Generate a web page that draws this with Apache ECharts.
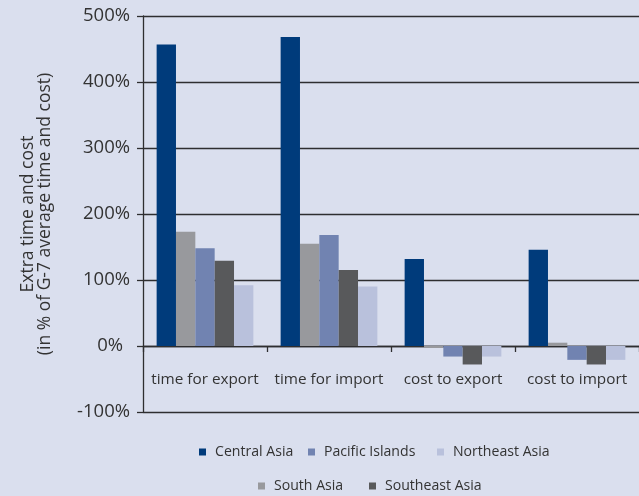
<!DOCTYPE html>
<html>
<head>
<meta charset="utf-8">
<title>Extra time and cost of trade</title>
<script src="https://cdn.jsdelivr.net/npm/echarts@6/dist/echarts.min.js"></script>
<style>
  html, body { margin: 0; padding: 0; background: #dadfee; }
  #chart { width: 639px; height: 496px; }
</style>
</head>
<body>
<div id="chart"></div>
<script>
// Categories along the x axis
const categories = ['time for export', 'time for import', 'cost to export', 'cost to import'];

// Extra time and cost, % of G-7 average
const centralAsia    = [457, 468, 132, 146];
const southAsia      = [173, 155, -3, 5];
const pacificIslands = [148, 168, -16, -21];
const southeastAsia  = [129, 115, -28, -28];
const northeastAsia  = [92, 90, -16, -21];

const yTicks = [-100, 0, 100, 200, 300, 400, 500];

const FONT = '"Open Sans", "Noto Sans", sans-serif';
const TEXT = '#333333';
const LINE = '#2e2e30';

const seriesDefs = [
  { name: 'Central Asia',    data: centralAsia,    color: '#003b7b' },
  { name: 'South Asia',      data: southAsia,      color: '#98999d' },
  { name: 'Pacific Islands', data: pacificIslands, color: '#7183b1' },
  { name: 'Southeast Asia',  data: southeastAsia,  color: '#58595b' },
  { name: 'Northeast Asia',  data: northeastAsia,  color: '#b9c1dc' }
];

// One legend entry per block so the two rows sit where they should
const legendSpots = [
  { name: 'Central Asia',    left: 199, top: 445 },
  { name: 'Pacific Islands', left: 308, top: 445 },
  { name: 'Northeast Asia',  left: 437, top: 445 },
  { name: 'South Asia',      left: 258, top: 479 },
  { name: 'Southeast Asia',  left: 369, top: 479 }
];

const chart = echarts.init(document.getElementById('chart'), null, { renderer: 'canvas' });

chart.setOption({
  backgroundColor: '#dadfee',
  animation: false,
  textStyle: { fontFamily: FONT },
  grid: { left: 143, right: 0, top: 16, bottom: 84, containLabel: false },
  legend: legendSpots.map(l => ({
    data: [l.name],
    left: l.left,
    top: l.top,
    padding: 0,
    icon: 'rect',
    itemWidth: 7,
    itemHeight: 7,
    selectedMode: false,
    textStyle: { fontFamily: FONT, fontSize: 14.1, color: TEXT, padding: [0, 0, 0, 4] }
  })),
  xAxis: [
    {
      // zero line with the category ticks
      type: 'category',
      data: categories,
      axisLine: { onZero: true, lineStyle: { color: LINE, width: 1.3 } },
      axisTick: { show: true, length: 6, lineStyle: { color: LINE, width: 1.3 } },
      axisLabel: { show: false },
      splitLine: { show: false }
    },
    {
      // category names, sitting between the zero line and the bottom line
      type: 'category',
      data: categories,
      position: 'bottom',
      axisLine: { show: false, onZero: false },
      axisTick: { show: false },
      axisLabel: {
        interval: 0,
        margin: -32,
        verticalAlign: 'middle',
        fontSize: 15.3,
        color: TEXT,
        fontFamily: FONT
      },
      splitLine: { show: false }
    }
  ],
  yAxis: {
    type: 'value',
    min: yTicks[0],
    max: yTicks[yTicks.length - 1],
    interval: 100,
    name: 'Extra time and cost\n(in % of G-7 average time and cost)',
    nameLocation: 'middle',
    nameGap: 89,
    nameTextStyle: { fontSize: 17.5, color: TEXT, fontFamily: FONT, lineHeight: 17 },
    axisLine: { show: true, lineStyle: { color: LINE, width: 1.3 } },
    axisTick: { show: true, length: 6, lineStyle: { color: LINE, width: 1.3 } },
    axisLabel: {
      margin: 13,
      fontSize: 18.5,
      color: TEXT,
      fontFamily: FONT,
      formatter: v => v === 0 ? '{z|0%}' : v + '%',
      rich: { z: { fontSize: 18.5, color: TEXT, fontFamily: FONT, padding: [0, 7, 0, 0] } }
    },
    splitLine: { show: true, lineStyle: { color: LINE, width: 1.3 } }
  },
  series: seriesDefs.map(s => ({
    name: s.name,
    type: 'bar',
    xAxisIndex: 0,
    data: s.data,
    barGap: '0%',
    barCategoryGap: '22%',
    itemStyle: { color: s.color },
    emphasis: { disabled: true }
  }))
});
</script>
</body>
</html>
